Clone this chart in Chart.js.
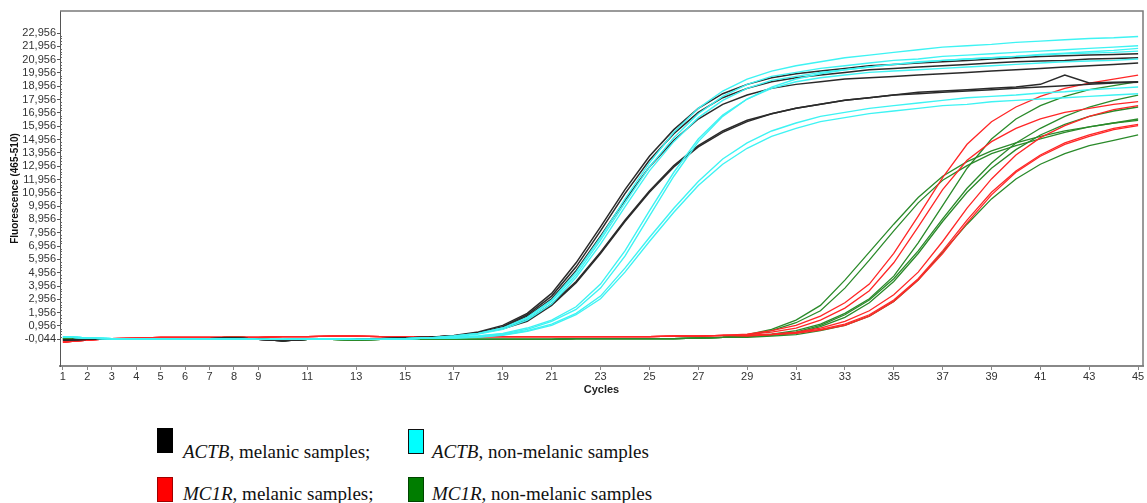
<!DOCTYPE html>
<html>
<head>
<meta charset="utf-8">
<script src="https://cdn.jsdelivr.net/npm/chart.js@4"></script>
<style>
  body { margin: 0; background: #fff; width: 1147px; height: 503px; overflow: hidden; position: relative; }
  #wrap { position: absolute; left: 0; top: 0; width: 1147px; height: 400px; }
  .sq { position: absolute; width: 16px; height: 25px; box-sizing: border-box; }
  .lg { position: absolute; font-family: "Liberation Serif", "DejaVu Serif", serif; font-size: 19px; line-height: 1; color: #111; white-space: nowrap; }
</style>
</head>
<body>
<div id="wrap"><canvas id="myChart"></canvas></div>

<div class="sq" style="left:157px;top:428px;background:#000;"></div>
<div class="lg" style="left:183px;top:442px;"><i>ACTB</i>, melanic samples;</div>
<div class="sq" style="left:408px;top:429px;background:#00ffff;border:1.5px solid #111;"></div>
<div class="lg" style="left:432px;top:442px;"><i>ACTB</i>, non-melanic samples</div>
<div class="sq" style="left:157px;top:477px;background:#ff0000;border:1.5px solid #a00000;"></div>
<div class="lg" style="left:183px;top:484px;"><i>MC1R</i>, melanic samples;</div>
<div class="sq" style="left:408px;top:477px;background:#007d00;border:1.5px solid #004400;"></div>
<div class="lg" style="left:432px;top:484px;"><i>MC1R</i>, non-melanic samples</div>

<script>
// cycles 1..45
const cycles = [1,2,3,4,5,6,7,8,9,10,11,12,13,14,15,16,17,18,19,20,21,22,23,24,25,26,27,28,29,30,31,32,33,34,35,36,37,38,39,40,41,42,43,44,45];
const xTickValues = [1,2,3,4,5,6,7,8,9,11,13,15,17,19,21,23,25,27,29,31,33,35,37,39,41,43,45];
const yTickValues = [-0.044,0.956,1.956,2.956,3.956,4.956,5.956,6.956,7.956,8.956,9.956,10.956,11.956,12.956,13.956,14.956,15.956,16.956,17.956,18.956,19.956,20.956,21.956,22.956];

// baselines (cycles 1-16)
const actbBlackBase = [-0.1,-0.05,-0.05,0,0,0,0,0.05,-0.05,-0.15,-0.05,0,-0.05,0,0.05,0.1];
const actbCyanBase = [0.15,0.05,0,0,0,0,0,0,-0.05,-0.05,0,0,-0.05,-0.05,0,0.05];
// baselines (cycles 1-28)
const mc1rRedBase = [-0.25,-0.1,0,0.05,0.1,0.1,0.1,0.1,0.1,0.15,0.15,0.2,0.2,0.15,0.15,0.15,
  0.15,0.15,0.15,0.15,0.15,0.15,0.15,0.15,0.15,0.2,0.2,0.25];
const mc1rGreenBase = [0,-0.05,-0.05,0,0,0,0,0.15,0,-0.15,-0.05,-0.05,-0.1,-0.05,-0.05,-0.05,
  -0.05,-0.05,-0.05,-0.05,-0.05,0,0,0,0,0,0.05,0.1];

// ACTB, melanic (cycles 17-45)
const actbMelanic = [
  actbBlackBase.concat([0.25,0.5,1.0,1.9,3.4,5.7,8.4,11.2,13.7,15.7,17.3,18.4,19.1,19.6,19.9,20.1,20.3,20.5,20.6,20.7,20.8,20.9,21.0,21.1,21.2,21.25,21.3,21.35,21.4]),
  actbBlackBase.concat([0.2,0.45,0.9,1.8,3.2,5.4,8.1,10.9,13.4,15.4,17.0,18.1,18.8,19.3,19.6,19.8,20.0,20.2,20.3,20.4,20.5,20.6,20.7,20.8,20.85,20.9,21.0,21.05,21.1]),
  actbBlackBase.concat([0.2,0.4,0.85,1.7,3.0,5.1,7.7,10.4,12.9,14.9,16.5,17.6,18.3,18.8,19.1,19.3,19.5,19.6,19.7,19.8,19.9,20.0,20.1,20.2,20.3,20.4,20.5,20.6,20.7]),
  actbBlackBase.concat([0.2,0.4,0.8,1.4,2.6,4.3,6.5,8.9,11.1,13.0,14.5,15.6,16.4,16.9,17.3,17.6,17.9,18.1,18.3,18.4,18.5,18.6,18.7,18.8,18.9,19.0,19.1,19.2,19.25]),
  actbBlackBase.concat([0.2,0.4,0.75,1.3,2.5,4.2,6.4,8.8,11.0,12.9,14.4,15.5,16.3,16.9,17.3,17.6,17.9,18.1,18.3,18.5,18.6,18.7,18.8,18.9,19.1,19.8,19.2,19.25,19.3])
];

// ACTB, non-melanic (cycles 17-45)
const actbNonMelanic = [
  actbCyanBase.concat([0.2,0.4,0.8,1.6,2.9,5.0,7.6,10.5,13.2,15.5,17.3,18.6,19.5,20.1,20.5,20.8,21.1,21.3,21.5,21.7,21.9,22.0,22.1,22.25,22.35,22.45,22.55,22.6,22.7]),
  actbCyanBase.concat([0.2,0.4,0.8,1.5,2.8,4.8,7.4,10.2,12.9,15.1,16.9,18.2,19.1,19.7,20.0,20.3,20.5,20.7,20.9,21.0,21.2,21.3,21.4,21.5,21.6,21.7,21.8,21.9,22.0]),
  actbCyanBase.concat([0.15,0.35,0.7,1.4,2.6,4.6,7.1,9.9,12.6,14.8,16.6,17.9,18.8,19.4,19.7,20.0,20.2,20.4,20.6,20.8,20.9,21.0,21.1,21.2,21.35,21.45,21.55,21.65,21.8]),
  actbCyanBase.concat([0.1,0.2,0.4,0.8,1.4,2.4,4.1,6.6,9.6,12.5,15.0,16.8,18.0,18.8,19.3,19.6,19.8,20.0,20.1,20.2,20.3,20.4,20.5,20.6,20.7,20.8,20.85,20.9,21.0]),
  actbCyanBase.concat([0.1,0.2,0.35,0.7,1.3,2.2,3.8,6.2,9.2,12.2,14.8,16.7,18.0,18.9,19.5,19.9,20.2,20.4,20.6,20.75,20.9,21.0,21.1,21.2,21.3,21.4,21.45,21.5,21.6]),
  actbCyanBase.concat([0.05,0.15,0.3,0.6,1.1,1.9,3.2,5.3,7.6,9.8,11.8,13.5,14.7,15.6,16.2,16.7,17.0,17.3,17.5,17.7,17.9,18.1,18.2,18.3,18.45,18.55,18.7,18.8,18.9]),
  actbCyanBase.concat([0.05,0.1,0.25,0.55,1.0,1.8,3.0,5.0,7.3,9.5,11.5,13.1,14.3,15.2,15.8,16.3,16.6,16.9,17.1,17.3,17.5,17.6,17.8,17.9,18.0,18.1,18.2,18.3,18.4])
];

// MC1R, melanic (cycles 29-45)
const mc1rMelanic = [
  mc1rRedBase.concat([0.35,0.6,1.0,1.7,2.7,4.1,6.4,9.2,12.1,14.6,16.3,17.4,18.2,18.8,19.2,19.5,19.8]),
  mc1rRedBase.concat([0.3,0.5,0.8,1.4,2.3,3.6,5.7,8.4,11.2,13.4,14.8,15.8,16.5,17.0,17.3,17.6,17.8]),
  mc1rRedBase.concat([0.25,0.35,0.5,0.8,1.3,2.1,3.3,5.0,7.3,9.8,12.0,13.8,15.1,16.0,16.7,17.2,17.5]),
  mc1rRedBase.concat([0.25,0.3,0.45,0.7,1.1,1.8,2.9,4.5,6.6,8.9,11.0,12.6,13.8,14.7,15.3,15.8,16.1]),
  mc1rRedBase.concat([0.2,0.3,0.4,0.65,1.0,1.7,2.8,4.4,6.4,8.7,10.8,12.5,13.7,14.6,15.2,15.7,16.0])
];

// MC1R, non-melanic (cycles 29-45)
const mc1rNonMelanic = [
  mc1rGreenBase.concat([0.3,0.7,1.4,2.5,4.4,6.5,8.6,10.6,12.2,13.3,14.1,14.7,15.2,15.6,15.9,16.2,16.5]),
  mc1rGreenBase.concat([0.25,0.6,1.2,2.1,3.8,5.9,8.1,10.2,11.9,13.0,13.9,14.5,15.0,15.5,15.9,16.2,16.4]),
  mc1rGreenBase.concat([0.2,0.35,0.6,1.1,1.9,3.0,4.7,7.2,10.0,12.8,15.0,16.5,17.5,18.2,18.7,19.0,19.3]),
  mc1rGreenBase.concat([0.15,0.3,0.5,1.0,1.8,2.9,4.5,6.6,9.0,11.3,13.2,14.7,15.8,16.7,17.4,17.9,18.3]),
  mc1rGreenBase.concat([0.15,0.25,0.4,0.9,1.6,2.7,4.3,6.4,8.8,11.0,12.8,14.2,15.3,16.1,16.7,17.1,17.4]),
  mc1rGreenBase.concat([0.1,0.2,0.3,0.6,1.0,1.7,2.8,4.4,6.5,8.6,10.5,12.0,13.1,13.9,14.5,14.9,15.3])
];

document.addEventListener('DOMContentLoaded', function() {
    const ctx = document.getElementById('myChart').getContext('2d');
    const family = '"Liberation Sans", Arial, sans-serif';

    const datasets = [];
    const addGroup = function(group, color, width) {
        group.forEach(function(vals) {
            datasets.push({
                data: vals,
                borderColor: color,
                borderWidth: width,
                pointRadius: 0,
                tension: 0,
                fill: false
            });
        });
    };
    addGroup(actbNonMelanic, '#3ef3f3', 1.4);
    addGroup(actbMelanic, '#2a2a2a', 1.5);
    addGroup(mc1rMelanic, '#ff2626', 1.3);
    addGroup(mc1rNonMelanic, '#2a8a2a', 1.3);

    // top / right frame and small inner ticks on the y axis
    const framePlugin = {
        id: 'frame',
        afterDraw: function(chart) {
            const a = chart.chartArea;
            const c = chart.ctx;
            const y = chart.scales.y;
            c.save();
            c.strokeStyle = '#7a7a7a';
            c.lineWidth = 1.5;
            c.beginPath();
            c.moveTo(a.left, a.top);
            c.lineTo(a.right, a.top);
            c.lineTo(a.right, a.bottom);
            c.stroke();
            c.strokeStyle = '#666';
            c.lineWidth = 1;
            for (let i = 0; i < yTickValues.length - 1; i++) {
                for (let k = 1; k < 5; k++) {
                    const py = Math.round(y.getPixelForValue(yTickValues[i] + k * 0.2)) + 0.5;
                    c.beginPath();
                    c.moveTo(a.left, py);
                    c.lineTo(a.left + 2, py);
                    c.stroke();
                }
            }
            c.restore();
        }
    };

    new Chart(ctx, {
        type: 'line',
        data: { labels: cycles, datasets: datasets },
        options: {
            responsive: true,
            maintainAspectRatio: false,
            animation: false,
            layout: { padding: { top: 11, right: 4, left: 0, bottom: 0 } },
            plugins: {
                legend: { display: false },
                tooltip: { enabled: false }
            },
            scales: {
                x: {
                    type: 'linear',
                    min: 0.88,
                    max: 45.2,
                    afterBuildTicks: function(s) { s.ticks = xTickValues.map(v => ({ value: v })); },
                    afterFit: function(s) { s.height = 34; },
                    ticks: { autoSkip: false, maxRotation: 0, padding: 0, color: '#333', font: { size: 11, family: family } },
                    grid: { drawOnChartArea: false, tickLength: 4, color: '#888' },
                    border: { color: '#888', width: 2 },
                    title: { display: true, text: 'Cycles', color: '#222', padding: { top: 0, bottom: 3 }, font: { size: 11, weight: 'bold', family: family } }
                },
                y: {
                    type: 'linear',
                    min: -2.05,
                    max: 24.61,
                    afterBuildTicks: function(s) { s.ticks = yTickValues.map(v => ({ value: v })); },
                    afterFit: function(s) { s.width = 60; },
                    ticks: {
                        autoSkip: false,
                        padding: 1,
                        color: '#333',
                        font: { size: 11, family: family },
                        callback: function(value) { return value.toFixed(3).replace('.', ','); }
                    },
                    grid: { drawOnChartArea: false, tickLength: 3, color: '#555' },
                    border: { color: '#555', width: 1 },
                    title: { display: true, text: 'Fluorescence (465-510)', color: '#111', padding: { top: 9, bottom: 0 }, font: { size: 10, weight: 'bold', family: family } }
                }
            }
        },
        plugins: [framePlugin]
    });
});
</script>
</body>
</html>
